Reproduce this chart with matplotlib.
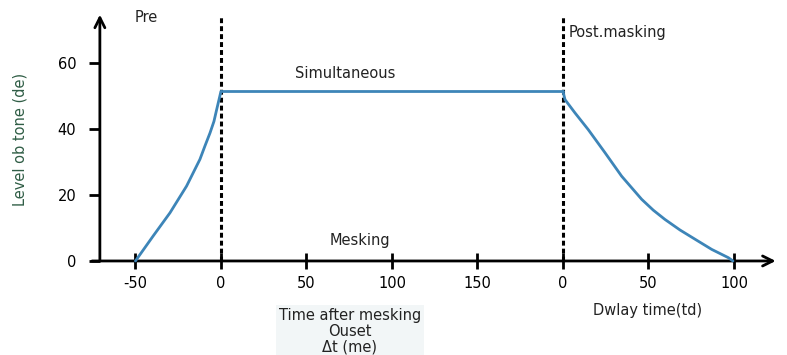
import matplotlib.pyplot as plt

# level of the tone over time: pre-masking rise, simultaneous plateau, post-masking decay
pre_x = [-50, -39.6, -29.8, -20.1, -12.3, -9.4, -6.4, -4.1, -2.5, 0]
pre_y = [0, 7.6, 14.6, 22.7, 30.8, 34.8, 38.8, 42.3, 45.9, 51.4]
sim_x = [0, 200]
sim_y = [51.4, 51.4]
post_x = [200, 201.2, 207, 214.8, 224.6, 234.3, 246, 252.8, 259.6, 268.4, 277.2, 287, 296.7, 299.4]
post_y = [51.4, 48.9, 44.9, 39.8, 32.8, 25.7, 18.7, 15.4, 12.6, 9.4, 6.6, 3.5, 1.0, 0]

# one running axis; second segment restarts at 0 (delay time)
xtick_pos = [-50, 0, 50, 100, 150, 200, 250, 300]
xtick_labels = ['-50', '0', '50', '100', '150', '0', '50', '100']
ytick_pos = [0, 20, 40, 60]

line_col = '#3d85b8'

fig = plt.figure(figsize=(7.87, 3.55), dpi=100)
ax = fig.add_axes([0, 0, 1, 1])
ax.set_xlim(-129.2, 331.0)
ax.set_ylim(-28.5, 79.1)

for s in ax.spines.values():
    s.set_visible(False)
ax.spines['left'].set_position(('data', -70.8))
ax.spines['bottom'].set_position(('data', 0))

# axis lines with arrow heads
ax.annotate('', xy=(-70.8, 75.5), xytext=(-70.8, -0.6),
            arrowprops=dict(arrowstyle='->', lw=2, color='black', mutation_scale=18))
ax.annotate('', xy=(326, 0), xytext=(-77, 0),
            arrowprops=dict(arrowstyle='->', lw=2, color='black', mutation_scale=18))

ax.set_xticks(xtick_pos)
ax.set_xticklabels(xtick_labels)
ax.set_yticks(ytick_pos)
ax.set_yticklabels([str(v) for v in ytick_pos])
ax.tick_params(axis='x', direction='inout', length=11, width=2, pad=5, labelsize=10.5, colors='black')
ax.tick_params(axis='y', direction='out', length=8, width=2, pad=9, labelsize=10.5, colors='black')

# boundaries between the three masking regions
for xv in (0, 200):
    ax.plot([xv, xv], [0, 74.5], color='black', lw=2.2, linestyle=(0, (1.6, 1.0)), zorder=2)

for xs, ys in ((pre_x, pre_y), (sim_x, sim_y), (post_x, post_y)):
    ax.plot(xs, ys, color=line_col, lw=2, zorder=3,
            solid_capstyle='round', solid_joinstyle='round')

txt = dict(fontsize=10.5, color='#222222')
ax.text(-43.9, 73.7, 'Pre', ha='center', va='center', **txt)
ax.text(72.5, 56.8, 'Simultaneous', ha='center', va='center', **txt)
ax.text(81.3, 6.3, 'Mesking', ha='center', va='center', **txt)
ax.text(203.5, 69.2, 'Post.masking', ha='left', va='center', **txt)
ax.text(249.7, -15.1, 'Dwlay time(td)', ha='center', va='center', **txt)
ax.text(75.4, -21.3, 'Time after mesking\nOuset\n\u0394t (me)', ha='center', va='center',
        linespacing=1.1, bbox=dict(facecolor='#f2f6f7', edgecolor='none', pad=2), **txt)

ax.text(-117.5, 36.8, 'Level ob tone (de)', rotation=90, ha='center', va='center',
        fontsize=10.5, color='#2f5d45')

fig.savefig('out.png', dpi=100)
